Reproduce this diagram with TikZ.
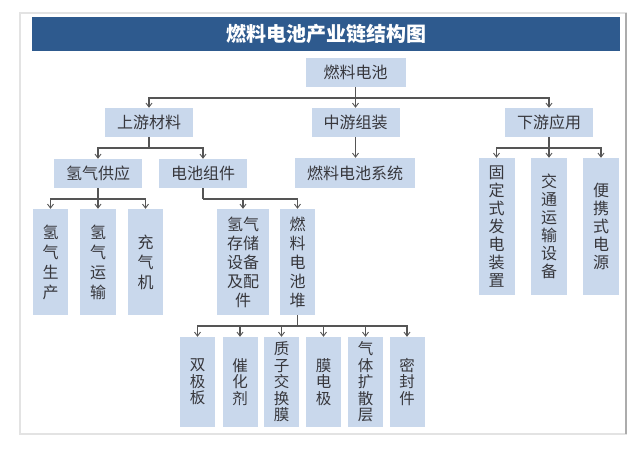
\documentclass[tikz,border=0pt]{standalone}
\usepackage{fontspec}
\setmainfont{Noto Sans CJK SC}
\usetikzlibrary{arrows.meta}
\definecolor{boxfill}{RGB}{201,216,236}
\definecolor{titlebg}{RGB}{46,90,142}
\definecolor{txt}{RGB}{55,55,60}
\definecolor{conn}{RGB}{85,85,85}
\tikzset{
  box/.style={fill=boxfill, draw=none, inner sep=0pt, text=txt, font=\fontsize{16}{18}\selectfont, align=center},
  vbox/.style={box, text width=20pt},
  arr/.style={draw=conn, line width=1.1pt, -{Straight Barb[length=4pt,width=6pt,line width=0.9pt]}},
  ln/.style={draw=conn, line width=1.1pt},
}
\begin{document}
\begin{tikzpicture}[x=1pt,y=-1pt]
\useasboundingbox (0,0) rectangle (640,460);
\fill[white] (0,0) rectangle (640,460);
% frame
\draw[gray!22, line width=1.5pt] (20,13) rectangle (626,434);
\draw[gray!65, line width=2.5pt] (626,13) -- (626,434);
% title
\node[fill=titlebg, minimum width=588pt, minimum height=34pt, inner sep=0pt, text=white, font=\fontsize{20}{22}\selectfont\bfseries] (title) at (326,34) {燃料电池产业链结构图};
% level 1
\node[box, minimum width=100pt, minimum height=29pt] (root) at (355.5,72.5) {燃料电池};
% level 2
\node[box, minimum width=88pt, minimum height=29pt] (up) at (149,122.5) {上游材料};
\node[box, minimum width=88pt, minimum height=29pt] (mid) at (355.5,122.5) {中游组装};
\node[box, minimum width=88pt, minimum height=29pt] (down) at (549,122.5) {下游应用};
% level 3
\node[box, minimum width=88pt, minimum height=29pt] (h2) at (98,173.5) {氢气供应};
\node[box, minimum width=88pt, minimum height=29pt] (cell) at (203,173.5) {电池组件};
\node[box, minimum width=120pt, minimum height=30pt] (sys) at (355,173) {燃料电池系统};
% level 4 left
\node[vbox, minimum width=35pt, minimum height=106pt, font=\fontsize{16}{20}\selectfont] (h2prod) at (50.5,262) {氢\\气\\生\\产};
\node[vbox, minimum width=36pt, minimum height=106pt, font=\fontsize{16}{20}\selectfont] (h2trans) at (98,262) {氢\\气\\运\\输};
\node[vbox, minimum width=35pt, minimum height=106pt, font=\fontsize{16}{20}\selectfont] (charger) at (145.5,262) {充\\气\\机};
\node[box, text width=36pt, minimum width=52pt, minimum height=106pt, font=\fontsize{16}{19}\selectfont] (storage) at (243,262) {氢气\\存储\\设备\\及配\\件};
\node[vbox, minimum width=35pt, minimum height=106pt, font=\fontsize{16}{19}\selectfont] (stack) at (297.5,262) {燃\\料\\电\\池\\堆};
% level 5
\tikzset{bot/.style={vbox, minimum width=35pt, minimum height=90pt, font=\fontsize{15.5}{16.5}\selectfont}}
\node[bot] (b1) at (197.5,382) {双\\极\\板};
\node[bot] (b2) at (240,382) {催\\化\\剂};
\node[bot] (b3) at (281.5,382) {质\\子\\交\\换\\膜};
\node[bot] (b4) at (323.5,382) {膜\\电\\极};
\node[bot] (b5) at (365.5,382) {气\\体\\扩\\散\\层};
\node[bot] (b6) at (407,382) {密\\封\\件};
% right
\tikzset{rgt/.style={vbox, minimum width=36pt, minimum height=137pt, font=\fontsize{16}{18}\selectfont}}
\node[rgt] (r1) at (496.5,226.5) {固\\定\\式\\发\\电\\装\\置};
\node[rgt] (r2) at (549,226.5) {交\\通\\运\\输\\设\\备};
\node[rgt] (r3) at (601,226.5) {便\\携\\式\\电\\源};
% connectors
\coordinate (j1) at (355.5,98);
\draw[arr] (root.south) -- (mid.north);
\draw[arr] (j1) -| (up.north);
\draw[arr] (j1) -| (down.north);
\coordinate (j2) at (149,148);
\draw[ln] (up.south) -- (j2);
\draw[arr] (j2) -| (h2.north);
\draw[arr] (j2) -| (cell.north);
\draw[arr] (mid.south) -- (mid.south |- sys.north);
\coordinate (j3) at (98,199);
\draw[arr] (h2.south) -- (h2trans.north);
\draw[arr] (j3) -| (h2prod.north);
\draw[arr] (j3) -| (charger.north);
\coordinate (j4) at (203,199);
\draw[ln] (cell.south) -- (j4);
\draw[arr] (j4) -| (storage.north);
\draw[arr] (j4) -| (stack.north);
\coordinate (j5) at (297.5,326);
\draw[ln] (stack.south) -- (j5);
\foreach \b in {b1,b2,b3,b4,b5,b6} \draw[arr] (j5) -| (\b.north);
\coordinate (j6) at (549,148);
\draw[arr] (down.south) -- (r2.north);
\draw[arr] (j6) -| (r1.north);
\draw[arr] (j6) -| (r3.north);
\end{tikzpicture}
\end{document}
